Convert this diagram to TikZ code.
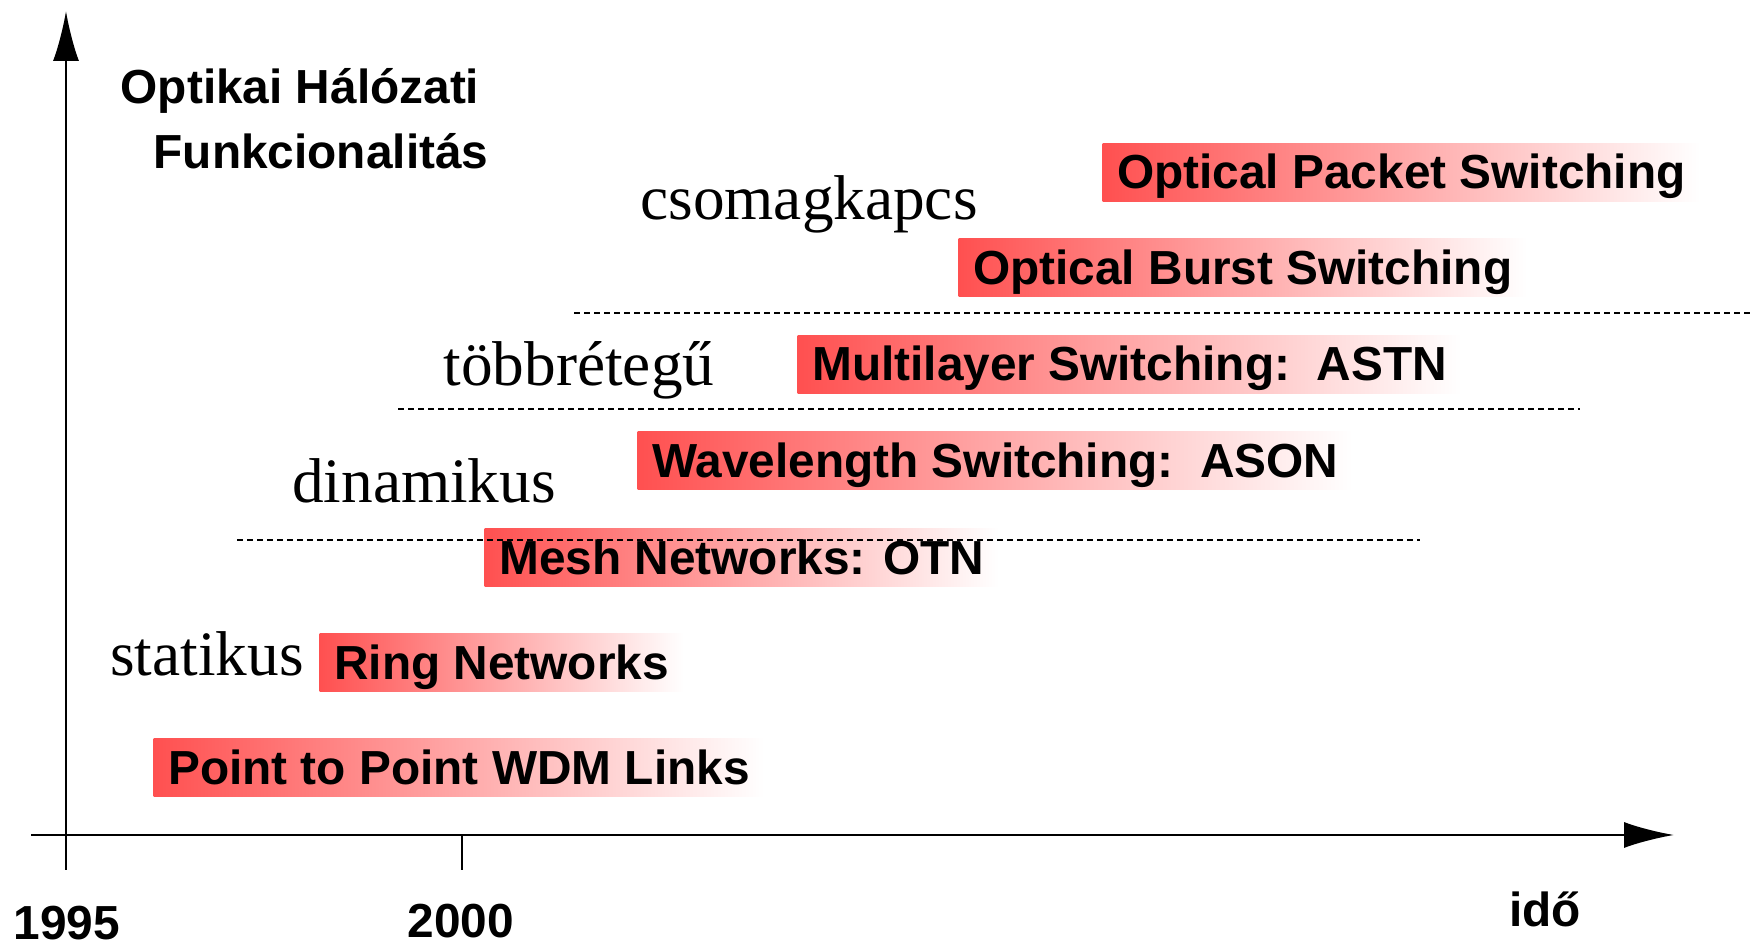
\documentclass[tikz,border=0pt]{standalone}
\usepackage{fontspec}
\setsansfont{Liberation Sans}
\newfontfamily\timesfont{Liberation Serif}
\usetikzlibrary{arrows.meta}
\definecolor{barred}{RGB}{255,80,80}
\tikzset{
	sw/.style={anchor=west, font=\sffamily\bfseries\fontsize{13.6}{16}\selectfont,
		left color=barred, right color=white, minimum height=5.8mm,
		text height=3.3mm, text depth=0pt, inner ysep=0pt, inner xsep=1.45mm},
	era/.style={anchor=base, font=\timesfont\fontsize{18}{21}\selectfont, inner sep=0pt},
	bold/.style={font=\sffamily\bfseries\fontsize{13.6}{16}\selectfont, inner sep=0pt},
	sep/.style={dash pattern=on 0.6mm off 0.4mm, line width=0.55pt},
	axis/.style={line width=0.7pt, -{Latex[length=5mm,width=2.6mm]}}
}
\begin{document}
\begin{tikzpicture}
		\useasboundingbox (0,0) rectangle (17.53,9.45);
		\coordinate (xs) at (0.31,1.10);
		\coordinate (xe) at (16.74,1.10);
		\coordinate (ys) at (0.66,0.75);
		\coordinate (ye) at (0.66,9.34);
		\coordinate (t0) at (4.62,1.10);
		\coordinate (t1) at (4.62,0.75);
		\draw [axis](xs)--(xe);
		\draw [axis](ys)--(ye);
		\draw [line width=0.7pt](t0)--(t1);
		\node (y1995)[bold] at (0.67,0.22) {1995};
		\node (y2000)[bold] at (4.61,0.24) {2000};
		\node (ido)[bold] at (15.45,0.36) {idő};
		\node (tit1)[bold, anchor = base west] at (1.20,8.41) {Optikai Hálózati};
		\node (tit2)[bold, anchor = base west] at (1.53,7.76) {Funkcionalitás};
		%
		\node (ops)[sw] at (11.02,7.725) {Optical Packet Switching};
		\node (obs)[sw] at (9.58,6.77) {Optical Burst Switching};
		\node (mls)[sw] at (7.97,5.805) {Multilayer Switching:\ \ ASTN};
		\node (wls)[sw] at (6.37,4.84) {Wavelength Switching:\ \ ASON};
		\node (mesh)[sw] at (4.84,3.87) {Mesh Networks: OTN};
		\node (ring)[sw] at (3.19,2.82) {Ring Networks};
		\node (ptp)[sw] at (1.53,1.77) {Point to Point WDM Links};
		%
		\node (csom)[era] at (8.09,7.25) {csomagkapcs};
		\node (tobb)[era] at (5.79,5.59) {többrétegű};
		\node (dina)[era] at (4.24,4.42) {dinamikus};
		\node (stat)[era] at (2.07,2.69) {statikus};
		%
		\draw [sep](5.74,6.32)--(17.53,6.32);
		\draw [sep](3.98,5.36)--(15.80,5.36);
		\draw [sep](2.37,4.05)--(14.20,4.05);
	\end{tikzpicture}
\end{document}
